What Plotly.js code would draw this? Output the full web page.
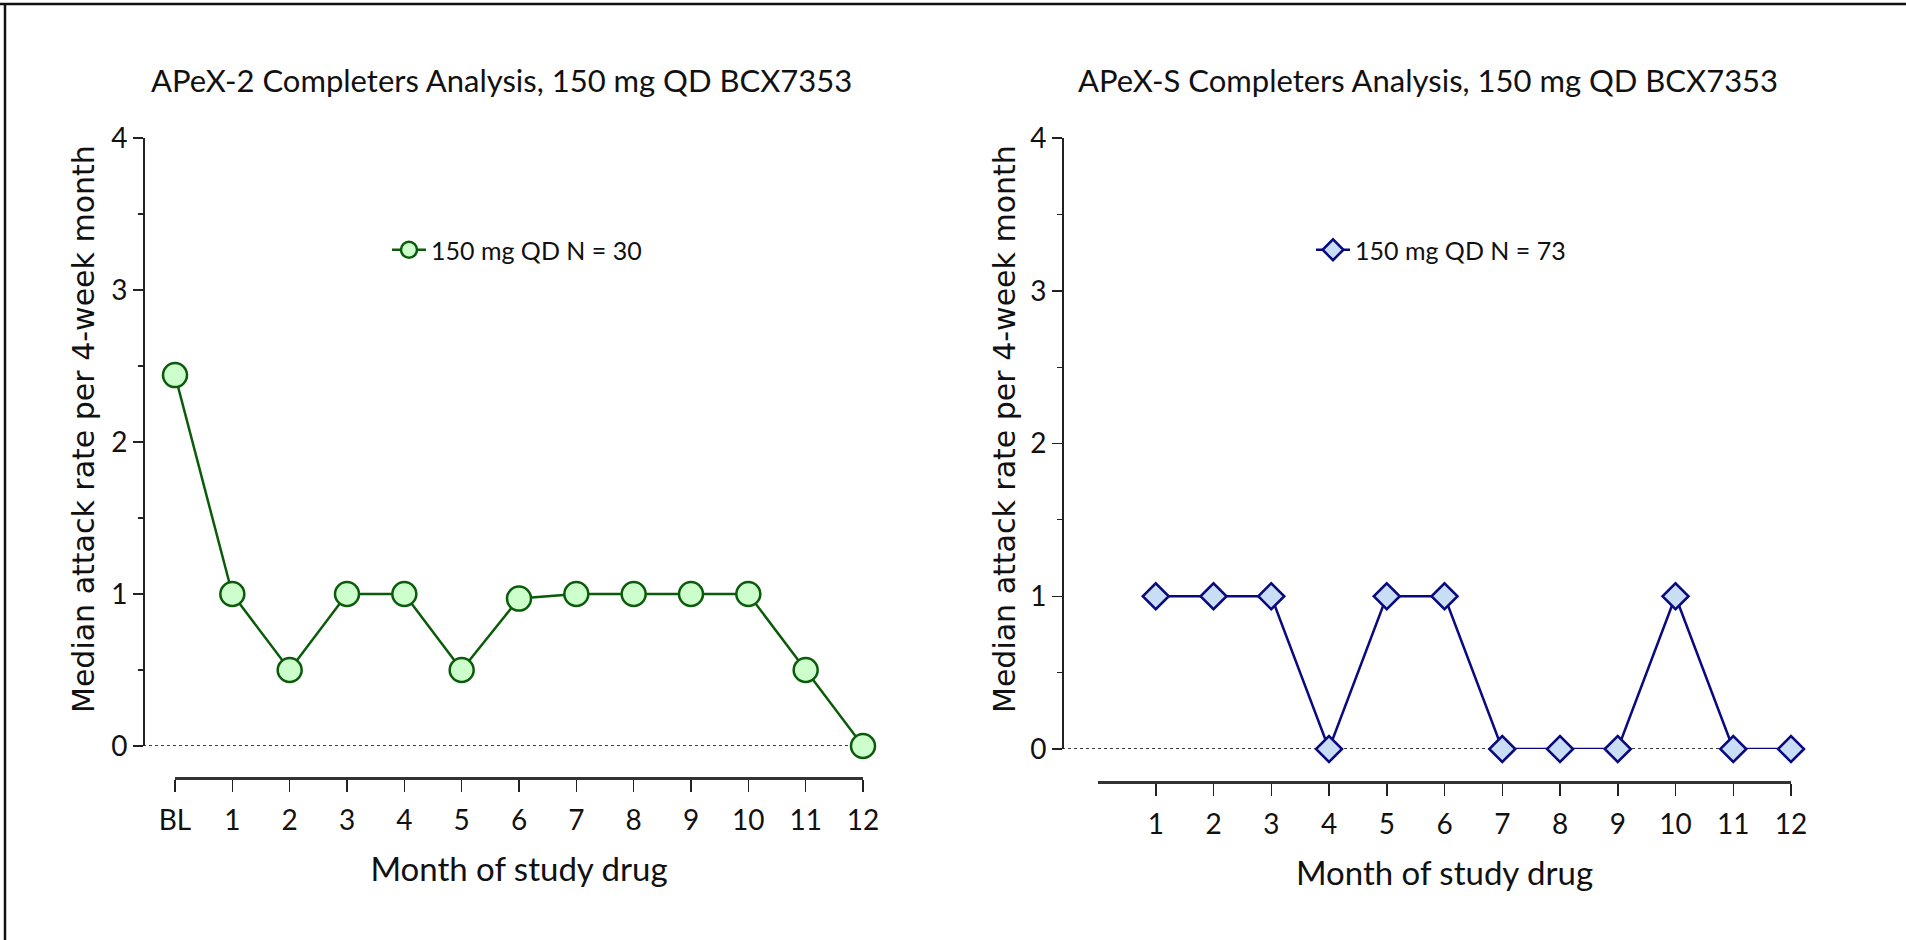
<!DOCTYPE html>
<html>
<head>
<meta charset="utf-8">
<script src="https://cdn.plot.ly/plotly-3.0.1.min.js"></script>
<style>html,body{margin:0;padding:0;background:#fff;}#chart{width:1906px;height:940px;}</style>
</head>
<body>
<div id="chart"></div>
<script>
// ---- data ----
const leftMonths = [0, 1, 2, 3, 4, 5, 6, 7, 8, 9, 10, 11, 12];
const leftTickLabels = ['BL', '1', '2', '3', '4', '5', '6', '7', '8', '9', '10', '11', '12'];
const leftValues = [2.44, 1, 0.5, 1, 1, 0.5, 0.97, 1, 1, 1, 1, 0.5, 0];
const leftName = '150 mg QD N = 30';
const leftTitle = 'APeX-2 Completers Analysis, 150 mg QD BCX7353';

const rightMonths = [1, 2, 3, 4, 5, 6, 7, 8, 9, 10, 11, 12];
const rightTickLabels = ['1', '2', '3', '4', '5', '6', '7', '8', '9', '10', '11', '12'];
const rightValues = [1, 1, 1, 0, 1, 1, 0, 0, 0, 1, 0, 0];
const rightName = '150 mg QD N = 73';
const rightTitle = 'APeX-S Completers Analysis, 150 mg QD BCX7353';

const yTicks = [0, 1, 2, 3, 4];
const yTitle = 'Median attack rate per 4-week month';
const xTitle = 'Month of study drug';

// ---- styling ----
const W = 1906, H = 940;
const px = v => v / W;
const py = v => (H - v) / H;
const FAM = 'Lato, "Open Sans", sans-serif';
const labelFont = {family: FAM, size: 28, color: '#111'};
const titleFont = {family: FAM, size: 31, color: '#111'};
const xTitleFont = {family: FAM, size: 33, color: '#111'};
const yTitleFont = {family: '"DejaVu Sans", Verdana, sans-serif', size: 30, color: '#111'};
const legendFont = {family: FAM, size: 25, color: '#111'};
const axColor = '#222';

const green = '#0a5c0a', greenFill = '#ccffcc';
const navy = '#0a0a80', navyFill = '#c9ddf5';

const traces = [
  {
    x: leftMonths, y: leftValues, name: leftName, type: 'scatter', mode: 'lines+markers',
    xaxis: 'x', yaxis: 'y', legend: 'legend', cliponaxis: false,
    line: {color: green, width: 2.5},
    marker: {symbol: 'circle', size: 24, color: greenFill, line: {color: green, width: 2.5}}
  },
  {
    x: rightMonths, y: rightValues, name: rightName, type: 'scatter', mode: 'lines+markers',
    xaxis: 'x2', yaxis: 'y2', legend: 'legend2', cliponaxis: false,
    line: {color: navy, width: 2.5},
    marker: {symbol: 'diamond', size: 20, color: navyFill, line: {color: navy, width: 2.5}}
  }
];

function yAxis(pos, dom) {
  return {
    anchor: 'free', position: pos, domain: dom, range: [0, 4],
    tickvals: yTicks, ticktext: yTicks.map(String),
    ticks: 'outside', ticklen: 10, tickwidth: 1.5, tickcolor: axColor,
    showline: true, linecolor: axColor, linewidth: 1.5,
    showgrid: false, zeroline: false, tickfont: labelFont,
    minor: {dtick: 0.5, tick0: 0, ticks: 'outside', ticklen: 5, tickwidth: 1.2, tickcolor: axColor, showgrid: false}
  };
}
function xAxis(pos, dom, vals, labels) {
  return {
    anchor: 'free', position: pos, domain: dom, range: [0, 12],
    tickvals: vals, ticktext: labels,
    ticks: 'outside', ticklen: 12, tickwidth: 1.5, tickcolor: axColor,
    showline: true, linecolor: '#333', linewidth: 2.5,
    showgrid: false, zeroline: false, tickfont: labelFont, ticklabelstandoff: 5,
    title: {text: xTitle, font: xTitleFont, standoff: 22}
  };
}
function note(text, x, y, font, angle) {
  return {text: text, xref: 'paper', yref: 'paper', x: px(x), y: py(y), xanchor: 'center', yanchor: 'middle',
          showarrow: false, font: font, textangle: angle || 0};
}

const layout = {
  width: W, height: H,
  margin: {l: 0, r: 0, t: 0, b: 0},
  paper_bgcolor: '#fff', plot_bgcolor: 'rgba(0,0,0,0)',
  showlegend: true,
  xaxis: xAxis(py(778), [px(175), px(863)], leftMonths, leftTickLabels),
  yaxis: yAxis(px(143), [py(746), py(138)]),
  xaxis2: xAxis(py(782), [px(1098), px(1791)], rightMonths, rightTickLabels),
  yaxis2: yAxis(px(1062), [py(749), py(138)]),
  legend: {x: px(387), y: py(250), xanchor: 'left', yanchor: 'middle', bgcolor: 'rgba(0,0,0,0)',
           font: legendFont, itemsizing: 'trace', itemwidth: 34},
  legend2: {x: px(1311), y: py(250), xanchor: 'left', yanchor: 'middle', bgcolor: 'rgba(0,0,0,0)',
            font: legendFont, itemsizing: 'trace', itemwidth: 34},
  annotations: [
    note(leftTitle, 502, 80, titleFont),
    note(rightTitle, 1428, 80, titleFont),
    note(yTitle, 83, 429, yTitleFont, -90),
    note(yTitle, 1004, 429, yTitleFont, -90)
  ],
  shapes: [
    // dotted zero reference lines
    {type: 'line', xref: 'paper', yref: 'y', x0: px(143), x1: px(863), y0: 0, y1: 0, line: {color: '#000', width: 1.5, dash: 'dot'}, layer: 'below'},
    {type: 'line', xref: 'paper', yref: 'y2', x0: px(1062), x1: px(1791), y0: 0, y1: 0, line: {color: '#000', width: 1.5, dash: 'dot'}, layer: 'below'},
    // frame (top and left edges)
    {type: 'line', xref: 'paper', yref: 'paper', x0: 0, x1: 1, y0: py(4), y1: py(4), line: {color: '#111', width: 2.5}},
    {type: 'line', xref: 'paper', yref: 'paper', x0: px(5), x1: px(5), y0: py(4), y1: 0, line: {color: '#111', width: 2.5}}
  ]
};

Plotly.newPlot('chart', traces, layout, {staticPlot: true, displayModeBar: false});
</script>
</body>
</html>
